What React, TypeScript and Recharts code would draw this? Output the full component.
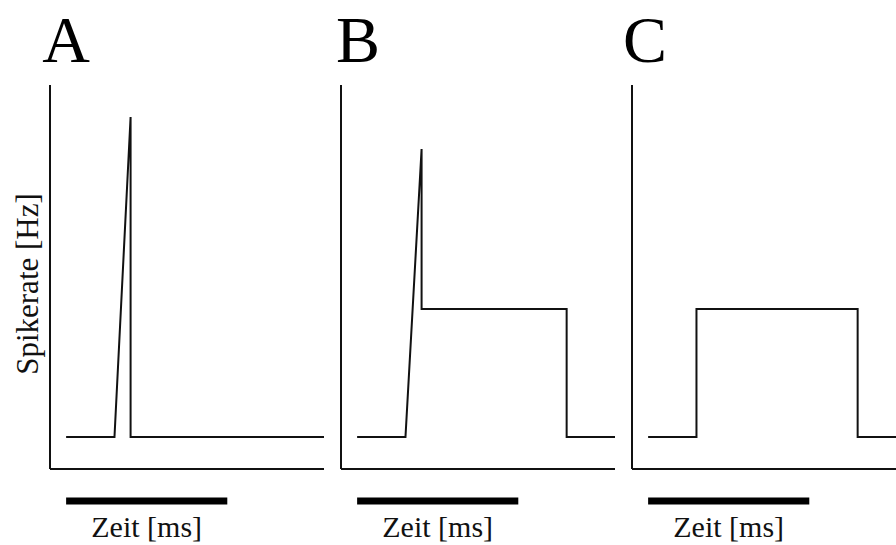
import React from 'react';
import { LineChart, Line, XAxis, YAxis, ReferenceLine, Label } from 'recharts';

// Panel letters
const panelNames = ['A', 'B', 'C'];

// Time points [ms] and spike rates [Hz] of the three response types
const timeA = [5, 20, 25, 25, 85];
const rateA = [10, 10, 110, 10, 10];

const timeB = [5, 20, 25, 25, 70, 70, 85];
const rateB = [10, 10, 100, 50, 50, 10, 10];

const timeC = [5, 20, 20, 70, 70, 85];
const rateC = [10, 10, 50, 50, 10, 10];

const timeDomain = [0, 85];
const rateDomain = [0, 120];

// time scale bar below each panel
const scaleBarTime = [5, 55];
const scaleBarRate = -10;

const serif = '"Liberation Serif", "Times New Roman", serif';
const ink = '#111';

const toRows = (t: number[], r: number[]) => t.map((time, i) => ({ time, rate: r[i] }));

const panels = [
  { name: panelNames[0], data: toRows(timeA, rateA), left: 0, letterX: 66, yLabel: true },
  { name: panelNames[1], data: toRows(timeB, rateB), left: 291, letterX: 358, yLabel: false },
  { name: panelNames[2], data: toRows(timeC, rateC), left: 582, letterX: 645, yLabel: false },
];

type PanelProps = {
  data: { time: number; rate: number }[];
  left: number;
  yLabel: boolean;
};

function Panel({ data, left, yLabel }: PanelProps) {
  return (
    <div style={{ position: 'absolute', left, top: 0 }}>
      <LineChart
        width={330}
        height={545}
        data={data}
        margin={{ top: 85, right: 6, bottom: 0, left: 0 }}
      >
        <XAxis
          dataKey="time"
          type="number"
          domain={timeDomain}
          height={76}
          tick={false}
          tickLine={false}
          axisLine={{ stroke: ink, strokeWidth: 2 }}
        />
        <YAxis
          type="number"
          domain={rateDomain}
          width={50}
          tick={false}
          tickLine={false}
          axisLine={{ stroke: ink, strokeWidth: 2 }}
        >
          {yLabel && (
            <Label
              value="Spikerate [Hz]"
              angle={-90}
              position="center"
              dx={2}
              dy={7}
              fill={ink}
              fontSize={31}
              fontFamily={serif}
            />
          )}
        </YAxis>
        <ReferenceLine
          segment={[
            { x: scaleBarTime[0], y: scaleBarRate },
            { x: scaleBarTime[1], y: scaleBarRate },
          ]}
          stroke="#000"
          strokeWidth={7}
          ifOverflow="visible"
        >
          <Label
            value="Zeit [ms]"
            position="bottom"
            offset={15}
            fill={ink}
            fontSize={30}
            fontFamily={serif}
          />
        </ReferenceLine>
        <Line
          dataKey="rate"
          type="linear"
          stroke={ink}
          strokeWidth={2}
          dot={false}
          isAnimationActive={false}
        />
      </LineChart>
    </div>
  );
}

export default function App() {
  return (
    <div
      style={{
        position: 'fixed',
        left: 0,
        top: 0,
        width: 896,
        height: 545,
        overflow: 'hidden',
        background: '#fff',
      }}
    >
      {panels.map((p) => (
        <Panel key={p.name} data={p.data} left={p.left} yLabel={p.yLabel} />
      ))}
      <svg
        width={896}
        height={545}
        style={{ position: 'absolute', left: 0, top: 0, pointerEvents: 'none' }}
      >
        {panels.map((p) => (
          <text
            key={p.name}
            x={p.letterX}
            y={62}
            textAnchor="middle"
            fontSize={66}
            fontFamily={serif}
            fill="#000"
          >
            {p.name}
          </text>
        ))}
      </svg>
    </div>
  );
}
